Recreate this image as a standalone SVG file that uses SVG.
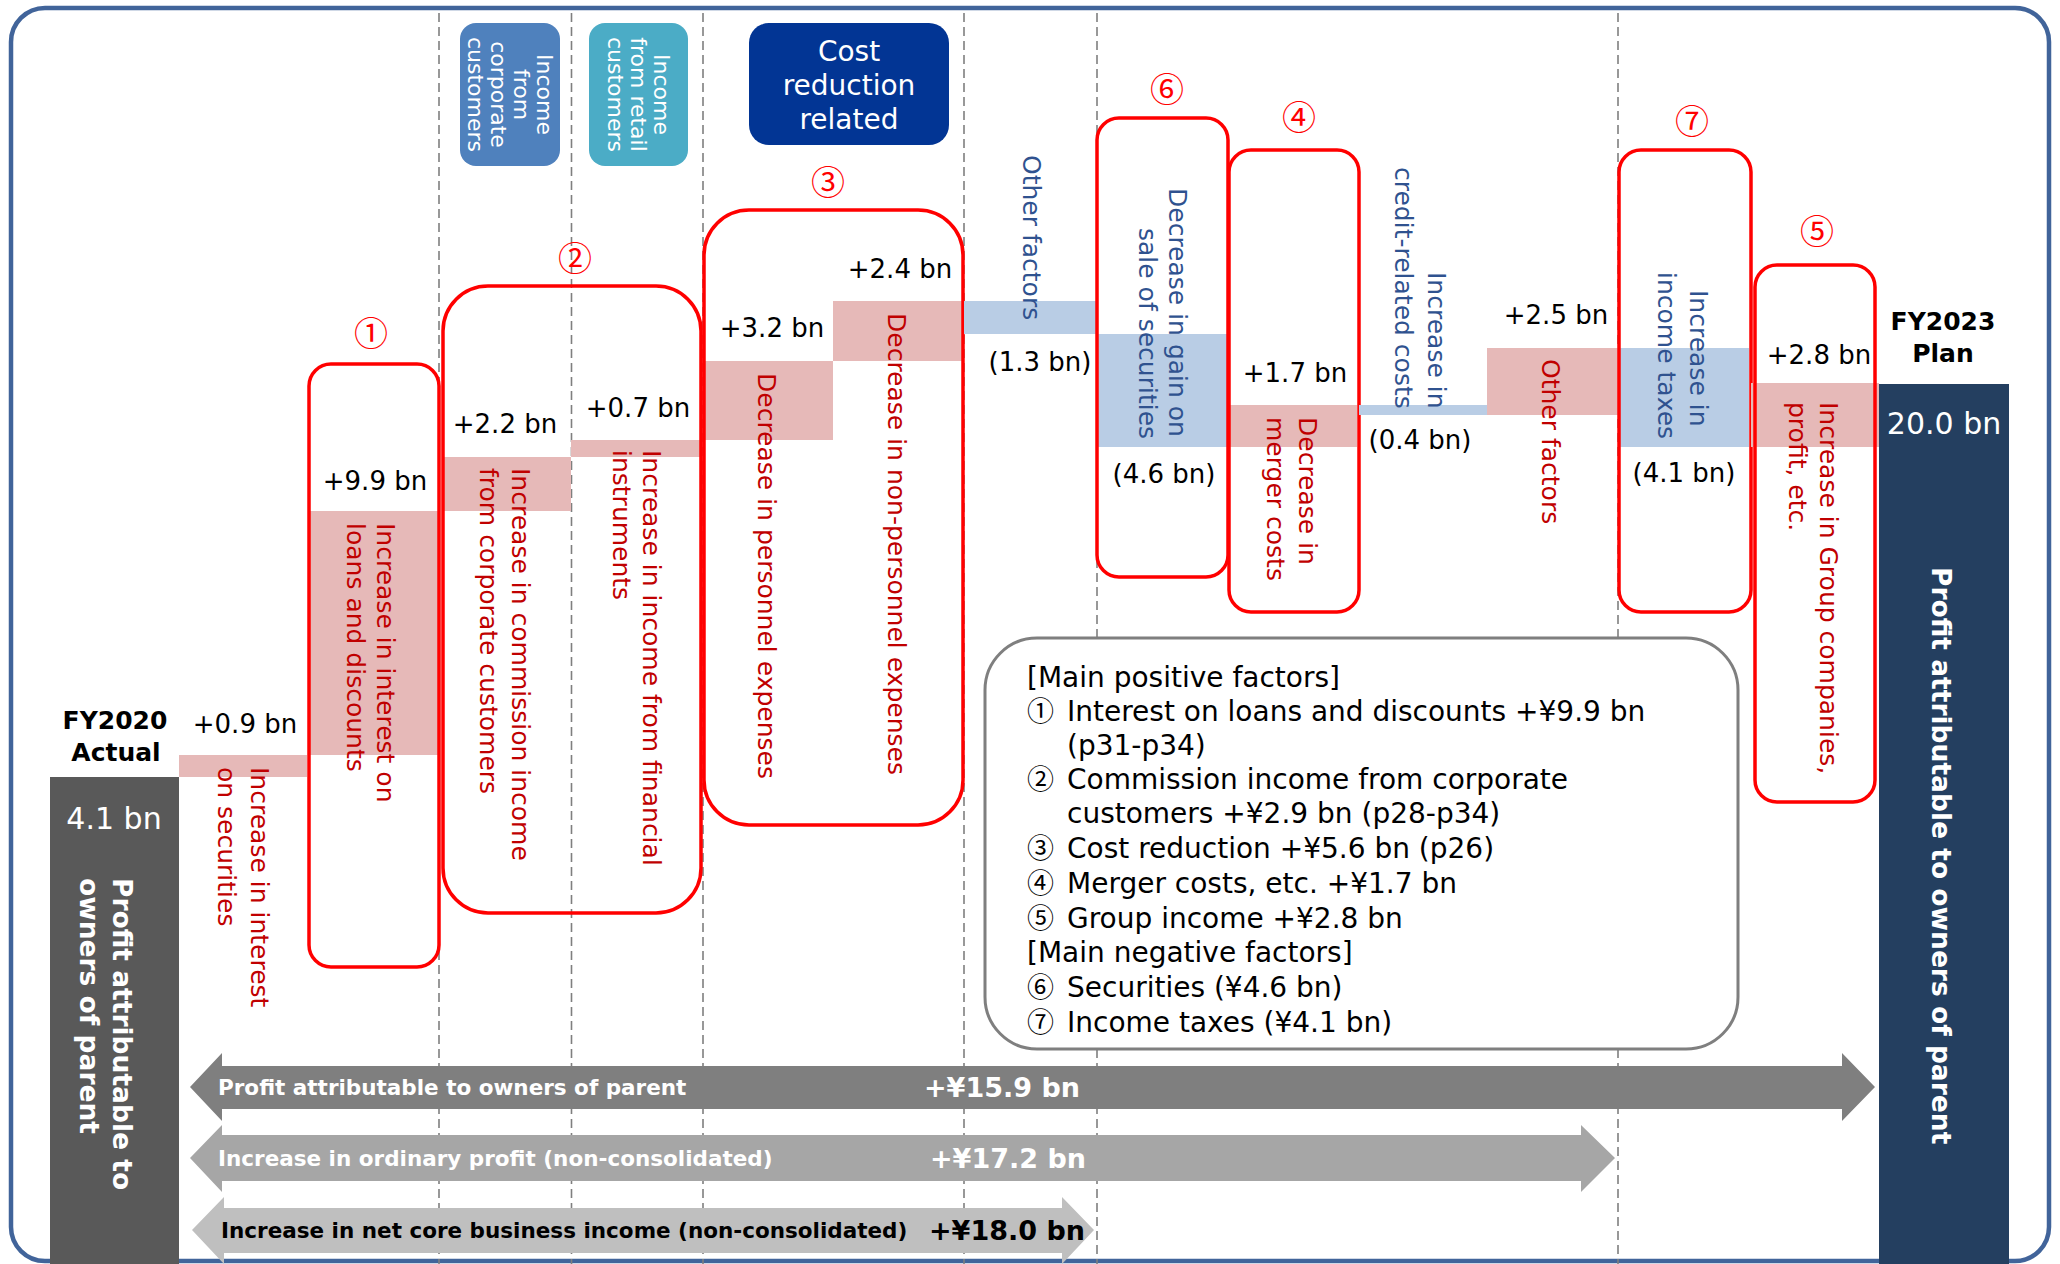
<svg xmlns="http://www.w3.org/2000/svg" width="2060" height="1264" viewBox="0 0 2060 1264">
<style>
text{font-family:"DejaVu Sans","Noto Sans CJK JP",sans-serif}
.guide{stroke:#7f7f7f;stroke-width:1.6;stroke-dasharray:9 5;fill:none}
.rbox{fill:none;stroke:#ff0000;stroke-width:3.5}
.pink{fill:#e6b9b8}
.blue{fill:#b9cde5}
.val{font-size:26px;fill:#000;text-anchor:middle}
.vr{font-size:25px;fill:#c00000}
.vb{font-size:25px;fill:#2f528f}
.hdr{font-size:22px;fill:#fff;text-anchor:middle}
.circ{font-family:"Noto Sans CJK JP","DejaVu Sans",sans-serif;font-size:34px;fill:#ff0000;text-anchor:middle}
.lg{font-size:28px;fill:#000}
.lgc{font-family:"Noto Sans CJK JP","DejaVu Sans",sans-serif;font-size:27px;fill:#000}
.fy{font-size:25px;font-weight:bold;fill:#000;text-anchor:middle}
.big{font-size:30px;fill:#fff;text-anchor:middle}
.vw{font-size:26.5px;font-weight:bold;fill:#fff}
.al{font-size:21.5px;font-weight:bold}
.av{font-size:27px;font-weight:bold}
</style>
<rect x="0" y="0" width="2060" height="1264" fill="#fff"/>
<rect id="frame" x="11" y="8" width="2038" height="1253" rx="34" fill="#fff" stroke="#41649a" stroke-width="4.5"/>

<g id="guides">
<line class="guide" x1="439" y1="13" x2="439" y2="1264"/>
<line class="guide" x1="571.5" y1="13" x2="571.5" y2="1264"/>
<line class="guide" x1="703" y1="13" x2="703" y2="1264"/>
<line class="guide" x1="964" y1="13" x2="964" y2="1264"/>
<line class="guide" x1="1097" y1="13" x2="1097" y2="1264"/>
<line class="guide" x1="1618" y1="13" x2="1618" y2="1264"/>
</g>

<g id="hdr-corporate">
<rect x="460" y="23" width="100" height="143" rx="16" fill="#4f81bd"/>
<text class="hdr" transform="translate(536.5,94.5) rotate(90)">Income</text>
<text class="hdr" transform="translate(513.5,94.5) rotate(90)">from</text>
<text class="hdr" transform="translate(490.5,94.5) rotate(90)">corporate</text>
<text class="hdr" transform="translate(467.5,94.5) rotate(90)">customers</text>
</g>
<g id="hdr-retail">
<rect x="589" y="23" width="99" height="143" rx="16" fill="#4bacc6"/>
<text class="hdr" transform="translate(653.5,94.5) rotate(90)">Income</text>
<text class="hdr" transform="translate(630.5,94.5) rotate(90)">from retail</text>
<text class="hdr" transform="translate(607.5,94.5) rotate(90)">customers</text>
</g>
<g id="hdr-cost">
<rect x="749" y="23" width="200" height="122" rx="20" fill="#023594"/>
<text x="849" y="61" font-size="28" fill="#fff" text-anchor="middle">Cost</text>
<text x="849" y="95" font-size="28" fill="#fff" text-anchor="middle">reduction</text>
<text x="849" y="129" font-size="28" fill="#fff" text-anchor="middle">related</text>
</g>

<g id="fy2020">
<rect x="50" y="777" width="129" height="487" fill="#595959"/>
<text class="fy" x="115" y="729">FY2020</text>
<text class="fy" x="116" y="761">Actual</text>
<text class="big" x="114" y="829">4.1 bn</text>
<text class="vw" transform="translate(112.5,878) rotate(90)">Profit attributable to</text>
<text class="vw" transform="translate(79.5,878) rotate(90)">owners of parent</text>
</g>

<g id="fy2023">
<rect x="1879" y="384" width="130" height="880" fill="#243f60"/>
<text class="fy" x="1943" y="330">FY2023</text>
<text class="fy" x="1943" y="362">Plan</text>
<text class="big" x="1944" y="434">20.0 bn</text>
<text class="vw" transform="translate(1931.5,567) rotate(90)">Profit attributable to owners of parent</text>
</g>

<g id="step-securities-interest">
<rect class="pink" x="179" y="755" width="128" height="22"/>
<text class="val" x="245" y="733">+0.9 bn</text>
<text class="vr" transform="translate(251,767) rotate(90)">Increase in interest</text>
<text class="vr" transform="translate(218,767) rotate(90)">on securities</text>
</g>

<g id="step-loans">
<rect class="pink" x="310" y="511" width="129" height="244"/>
<text class="val" x="375" y="490">+9.9 bn</text>
<text class="vr" transform="translate(377,523) rotate(90)">Increase in interest on</text>
<text class="vr" transform="translate(347,523) rotate(90)">loans and discounts</text>
<rect class="rbox" x="309" y="364" width="130" height="603" rx="22"/>
<text class="circ" x="371" y="346">①</text>
</g>

<g id="step-commission">
<rect class="pink" x="443" y="457" width="128" height="54"/>
<text class="val" x="505" y="433">+2.2 bn</text>
<text class="vr" transform="translate(512,468) rotate(90)">Increase in commission income</text>
<text class="vr" transform="translate(480,468) rotate(90)">from corporate customers</text>
</g>
<g id="step-financial">
<rect class="pink" x="571" y="440" width="129" height="17"/>
<text class="val" x="638" y="417">+0.7 bn</text>
<text class="vr" transform="translate(643,450) rotate(90)">Increase in income from financial</text>
<text class="vr" transform="translate(613,450) rotate(90)">instruments</text>
</g>
<g id="group2">
<rect class="rbox" x="443" y="286" width="258" height="627" rx="45"/>
<text class="circ" x="575" y="271">②</text>
</g>

<g id="step-personnel">
<rect class="pink" x="705" y="361" width="128" height="79"/>
<text class="val" x="772" y="337">+3.2 bn</text>
<text class="vr" transform="translate(758,373) rotate(90)">Decrease in personnel expenses</text>
</g>
<g id="step-nonpersonnel">
<rect class="pink" x="833" y="301" width="130" height="60"/>
<text class="val" x="900" y="278">+2.4 bn</text>
<text class="vr" transform="translate(888,313) rotate(90)">Decrease in non-personnel expenses</text>
</g>
<g id="group3">
<rect class="rbox" x="704" y="210" width="259" height="615" rx="45"/>
<text class="circ" x="828" y="195">③</text>
</g>

<g id="step-other-neg">
<rect class="blue" x="964" y="301" width="133" height="33"/>
<text class="val" x="1040" y="371">(1.3 bn)</text>
<text class="vb" transform="translate(1023,155) rotate(90)">Other factors</text>
</g>

<g id="step-gain-securities">
<rect class="blue" x="1098" y="334" width="129" height="113"/>
<text class="val" x="1164" y="483">(4.6 bn)</text>
<text class="vb" transform="translate(1169,188) rotate(90)">Decrease in gain on</text>
<text class="vb" transform="translate(1139,228) rotate(90)">sale of securities</text>
<rect class="rbox" x="1097" y="118" width="131" height="459" rx="22"/>
<text class="circ" x="1167" y="102">⑥</text>
</g>

<g id="step-merger">
<rect class="pink" x="1229" y="405" width="128" height="42"/>
<text class="val" x="1295" y="382">+1.7 bn</text>
<text class="vr" transform="translate(1299,417) rotate(90)">Decrease in</text>
<text class="vr" transform="translate(1267,417) rotate(90)">merger costs</text>
<rect class="rbox" x="1229" y="150" width="130" height="462" rx="22"/>
<text class="circ" x="1299" y="130">④</text>
</g>

<g id="step-credit">
<rect class="blue" x="1359" y="405" width="128" height="10"/>
<text class="val" x="1420" y="449">(0.4 bn)</text>
<text class="vb" transform="translate(1428,272) rotate(90)">Increase in</text>
<text class="vb" transform="translate(1395,167) rotate(90)">credit-related costs</text>
</g>

<g id="step-other-pos">
<rect class="pink" x="1487" y="348" width="131" height="67"/>
<text class="val" x="1556" y="324">+2.5 bn</text>
<text class="vr" transform="translate(1542,359) rotate(90)">Other factors</text>
</g>

<g id="step-taxes">
<rect class="blue" x="1619" y="348" width="130" height="99"/>
<text class="val" x="1684" y="482">(4.1 bn)</text>
<text class="vb" transform="translate(1690,290) rotate(90)">Increase in</text>
<text class="vb" transform="translate(1658,272) rotate(90)">income taxes</text>
<rect class="rbox" x="1619" y="150" width="132" height="462" rx="22"/>
<text class="circ" x="1692" y="134">⑦</text>
</g>

<g id="step-group">
<rect class="pink" x="1751" y="383" width="128" height="64"/>
<text class="val" x="1819" y="364">+2.8 bn</text>
<text class="vr" transform="translate(1820,402) rotate(90)">Increase in Group companies,</text>
<text class="vr" transform="translate(1789,402) rotate(90)">profit, etc.</text>
<rect class="rbox" x="1755" y="265" width="120" height="537" rx="22"/>
<text class="circ" x="1817" y="244">⑤</text>
</g>

<g id="legend">
<rect x="985" y="638" width="753" height="411" rx="52" fill="#fff" stroke="#7f7f7f" stroke-width="3"/>
<text class="lg" x="1027" y="687">[Main positive factors]</text>
<text class="lgc" x="1027" y="721">①</text><text class="lg" x="1067" y="721">Interest on loans and discounts +¥9.9 bn</text>
<text class="lg" x="1067" y="755">(p31-p34)</text>
<text class="lgc" x="1027" y="789">②</text><text class="lg" x="1067" y="789">Commission income from corporate</text>
<text class="lg" x="1067" y="823">customers +¥2.9 bn (p28-p34)</text>
<text class="lgc" x="1027" y="858">③</text><text class="lg" x="1067" y="858">Cost reduction +¥5.6 bn (p26)</text>
<text class="lgc" x="1027" y="893">④</text><text class="lg" x="1067" y="893">Merger costs, etc. +¥1.7 bn</text>
<text class="lgc" x="1027" y="928">⑤</text><text class="lg" x="1067" y="928">Group income +¥2.8 bn</text>
<text class="lg" x="1027" y="962">[Main negative factors]</text>
<text class="lgc" x="1027" y="997">⑥</text><text class="lg" x="1067" y="997">Securities (¥4.6 bn)</text>
<text class="lgc" x="1027" y="1032">⑦</text><text class="lg" x="1067" y="1032">Income taxes (¥4.1 bn)</text>
</g>

<g id="connectors">
<g id="arrow-profit">
<polygon points="190,1087 222,1053 222,1066 1842,1066 1842,1053 1875,1087 1842,1121 1842,1109 222,1109 222,1121" fill="#7f7f7f"/>
<text class="al" x="218" y="1095" fill="#fff">Profit attributable to owners of parent</text>
<text class="av" x="924" y="1097" fill="#fff">+¥15.9 bn</text>
</g>
<g id="arrow-ordinary">
<polygon points="190,1158 222,1125 222,1135 1581,1135 1581,1125 1615,1158 1581,1192 1581,1181 222,1181 222,1192" fill="#a6a6a6"/>
<text class="al" x="218" y="1166" fill="#fff">Increase in ordinary profit (non-consolidated)</text>
<text class="av" x="930" y="1168" fill="#fff">+¥17.2 bn</text>
</g>
<g id="arrow-core">
<polygon points="192,1230 224,1197 224,1208 1062,1208 1062,1197 1094,1230 1062,1264 1062,1253 224,1253 224,1264" fill="#bfbfbf"/>
<text class="al" x="221" y="1238" fill="#000">Increase in net core business income (non-consolidated)</text>
<text class="av" x="929" y="1240" fill="#000">+¥18.0 bn</text>
</g>
</g>
</svg>
